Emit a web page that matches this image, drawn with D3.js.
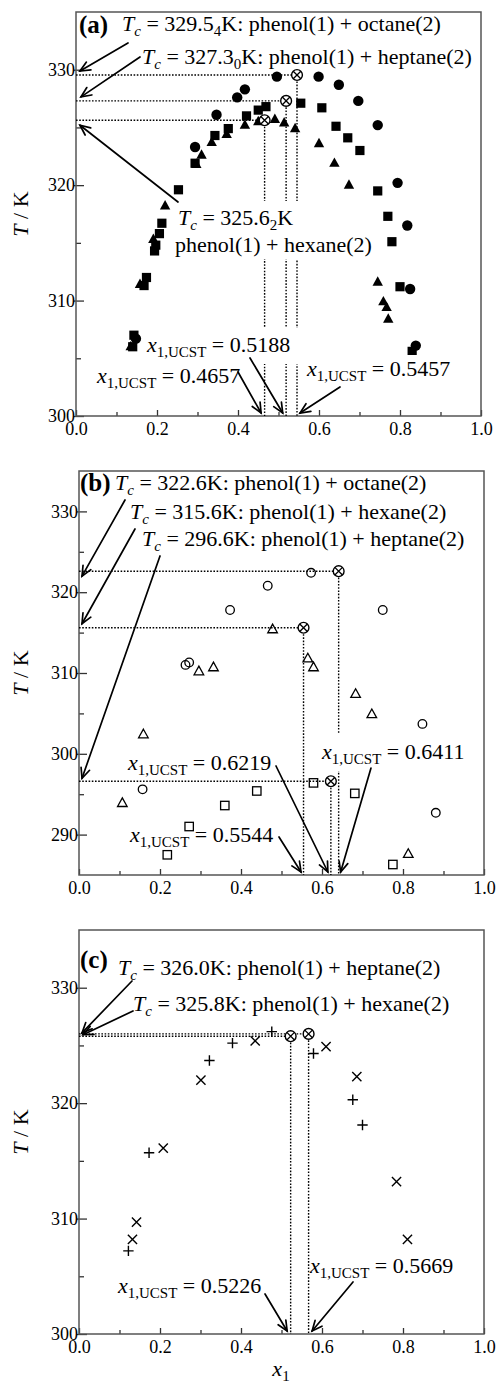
<!DOCTYPE html>
<html>
<head>
<meta charset="utf-8">
<script src="https://cdn.jsdelivr.net/npm/d3@7"></script>
<style>
  body { margin: 0; background: #fff; }
  svg { display: block; }
  text { font-family: "Liberation Serif", "Times New Roman", serif; white-space: pre; fill: #000; }
</style>
</head>
<body>
<svg id="chart" width="497" height="1383"></svg>
<script>
// ---------- data ----------
const xMajorTicks = [0, 0.2, 0.4, 0.6, 0.8, 1.0];
const xMinorTicks = [0.1, 0.3, 0.5, 0.7, 0.9];
const tempTicks300 = [300, 310, 320, 330];
const tempMinor300 = [305, 315, 325];
const tempTicks285 = [290, 300, 310, 320, 330];
const tempMinor285 = [295, 305, 315, 325];

// (a) measured points [x1, T/K]
const octaneA = [[0.148,306.7],[0.294,323.3],[0.347,326.1],[0.398,327.6],[0.417,328.3],[0.496,329.4],
  [0.599,329.4],[0.649,328.7],[0.697,327.3],[0.745,325.2],[0.794,320.2],[0.818,316.5],[0.825,311.0],[0.839,306.1]];
const heptaneA = [[0.140,306.0],[0.143,307.0],[0.168,311.3],[0.174,312.0],[0.194,314.3],[0.197,314.8],
  [0.206,315.8],[0.212,316.7],[0.253,319.6],[0.294,321.9],[0.343,324.3],[0.376,324.9],[0.421,326.0],
  [0.450,326.5],[0.469,326.8],[0.555,327.1],[0.607,326.7],[0.642,325.1],[0.671,324.1],[0.701,323.0],
  [0.745,319.5],[0.770,317.3],[0.780,315.1],[0.800,311.2],[0.830,305.6]];
const hexaneA = [[0.135,306.0],[0.158,311.4],[0.191,315.3],[0.220,318.2],[0.297,321.8],[0.310,322.6],
  [0.335,323.7],[0.372,324.4],[0.417,325.2],[0.450,325.5],[0.491,325.7],[0.514,325.4],[0.541,324.9],
  [0.600,323.6],[0.638,321.9],[0.674,320.0],[0.709,317.0],[0.745,311.6],[0.759,309.9],[0.767,309.4],[0.771,308.4]];
// (a) critical points: octane, heptane, hexane
const criticalXA = [0.5457, 0.5188, 0.4657];
const criticalTA = [329.54, 327.30, 325.62];
const systemsA = ["octane", "heptane", "hexane"];

// (b) calculated points
const octaneB = [[0.157,295.6],[0.263,311.0],[0.272,311.3],[0.373,317.8],[0.466,320.8],[0.573,322.4],
  [0.750,317.8],[0.848,303.7],[0.881,292.7]];
const hexaneB = [[0.107,293.9],[0.159,302.4],[0.296,310.2],[0.332,310.7],[0.478,315.4],[0.565,311.8],
  [0.579,310.7],[0.683,307.4],[0.723,304.9],[0.813,287.6]];
const heptaneB = [[0.218,287.5],[0.272,291.0],[0.360,293.6],[0.439,295.4],[0.579,296.4],[0.681,295.1],[0.775,286.3]];
// (b) critical points: octane, hexane, heptane
const criticalXB = [0.6411, 0.5544, 0.6219];
const criticalTB = [322.6, 315.6, 296.6];
const systemsB = ["octane", "hexane", "heptane"];

// (c) calculated points
const heptaneC = [[0.122,307.2],[0.173,315.7],[0.322,323.7],[0.379,325.2],[0.476,326.2],[0.579,324.3],
  [0.676,320.3],[0.700,318.1]];
const hexaneC = [[0.132,308.2],[0.142,309.7],[0.208,316.1],[0.301,322.0],[0.435,325.4],[0.610,324.9],
  [0.686,322.3],[0.784,313.2],[0.811,308.2]];
// (c) critical points: heptane, hexane
const criticalXC = [0.5669, 0.5226];
const criticalTC = [326.0, 325.8];
const systemsC = ["heptane", "hexane"];

// ---------- drawing helpers ----------
const svg = d3.select("#chart");
const FS = 22;        // annotation font size
const SUB_DY = 5;

const glyphs = {
  discFilled: g => g.append("circle").attr("r", 5.2).attr("fill", "#000"),
  squareFilled: g => g.append("rect").attr("x", -4.6).attr("y", -4.6).attr("width", 9.2).attr("height", 9.2).attr("fill", "#000"),
  triFilled: g => g.append("path").attr("d", "M0,-5.8L5.2,3.6L-5.2,3.6Z").attr("fill", "#000"),
  circleOpen: g => g.append("circle").attr("r", 4.3).attr("fill", "none").attr("stroke", "#000").attr("stroke-width", 1.3),
  squareOpen: g => g.append("rect").attr("x", -4.2).attr("y", -4.2).attr("width", 8.4).attr("height", 8.4)
      .attr("fill", "none").attr("stroke", "#000").attr("stroke-width", 1.3),
  triOpen: g => g.append("path").attr("d", "M0,-5.2L4.8,3.4L-4.8,3.4Z").attr("fill", "none")
      .attr("stroke", "#000").attr("stroke-width", 1.3).attr("stroke-linejoin", "miter"),
  plus: g => g.append("path").attr("d", "M-5.2,0H5.2M0,-5.2V5.2").attr("stroke", "#000").attr("stroke-width", 1.4),
  cross: g => g.append("path").attr("d", "M-4.6,-4.6L4.6,4.6M-4.6,4.6L4.6,-4.6").attr("stroke", "#000").attr("stroke-width", 1.4),
  otimes: g => {
    g.append("circle").attr("r", 5.4).attr("fill", "#fff").attr("stroke", "#000").attr("stroke-width", 1.4);
    g.append("path").attr("d", "M-3.8,-3.8L3.8,3.8M-3.8,3.8L3.8,-3.8").attr("stroke", "#000").attr("stroke-width", 1.3);
  }
};

function richText(g, x, y, parts, fs) {
  const t = g.append("text").attr("x", x).attr("y", y).attr("font-size", fs);
  let shift = 0;
  parts.forEach(p => {
    const ts = t.append("tspan").text(p.t);
    const want = p.sub ? SUB_DY : 0;
    if (want !== shift) { ts.attr("dy", want - shift); shift = want; }
    if (p.sub) ts.attr("font-size", p.fs || Math.round(fs * 0.68));
    if (p.it) ts.attr("font-style", "italic");
  });
  return t;
}

function label(parent, lines, bg, pad) {
  const g = parent.append("g");
  lines.forEach(l => richText(g, l.x, l.y, l.parts, FS));
  if (bg) {
    const b = g.node().getBBox();
    const p = pad || [2, 2, 1, 1];
    g.insert("rect", ":first-child").attr("x", b.x - p[0]).attr("y", b.y - p[2])
      .attr("width", b.width + p[0] + p[1]).attr("height", b.height + p[2] + p[3]).attr("fill", "#fff");
  }
  return g;
}

function arrow(parent, from, to) {
  const a = Math.atan2(to[1] - from[1], to[0] - from[0]);
  const len = 11, s = 0.42;
  const g = parent.append("g").attr("stroke", "#000").attr("stroke-width", 1.7).attr("fill", "none")
    .attr("stroke-linecap", "round");
  g.append("line").attr("x1", from[0]).attr("y1", from[1]).attr("x2", to[0]).attr("y2", to[1]);
  g.append("path").attr("d",
    `M${to[0] - len * Math.cos(a - s)},${to[1] - len * Math.sin(a - s)}L${to[0]},${to[1]}` +
    `L${to[0] - len * Math.cos(a + s)},${to[1] - len * Math.sin(a + s)}`);
}

function tcParts(T, digits, withSub, tail) {
  const s = T.toFixed(digits);
  const parts = [{ t: "T", it: 1 }, { t: "c", it: 1, sub: 1 }];
  if (withSub) {
    parts.push({ t: " = " + s.slice(0, -1) }, { t: s.slice(-1), sub: 1 });
    parts.push({ t: "K" + tail });
  } else {
    parts.push({ t: " = " + s + "K" + tail });
  }
  return parts;
}
function ucstParts(v) {
  return [{ t: "x", it: 1 }, { t: "1,UCST", sub: 1, fs: 15 }, { t: " = " + v.toFixed(4) }];
}

function drawPanel(p) {
  const x = d3.scaleLinear().domain([0, 1]).range([p.left, p.right]);
  const y = d3.scaleLinear().domain(p.yDomain).range([p.bottom, p.top]);
  const g = svg.append("g");

  // axes: ticks point into the plot, minor ticks shorter
  const styleAxis = sel => {
    sel.select(".domain").remove();
    sel.selectAll("line").attr("stroke", "#333").attr("stroke-width", 1.3);
    sel.selectAll("text").attr("font-family", null).attr("font-size", 18).attr("fill", "#111");
    sel.attr("font-family", null).attr("font-size", null);
  };
  g.append("g").attr("transform", `translate(0,${p.bottom})`)
    .call(d3.axisBottom(x).tickValues(xMajorTicks).tickSize(-6).tickPadding(6).tickFormat(d3.format(".1f")))
    .call(styleAxis);
  g.append("g").attr("transform", `translate(0,${p.bottom})`)
    .call(d3.axisBottom(x).tickValues(xMinorTicks).tickSize(-4).tickFormat(""))
    .call(styleAxis);
  const ya = g.append("g").attr("transform", `translate(${p.left},0)`)
    .call(d3.axisLeft(y).tickValues(p.yTicks).tickSize(-8).tickPadding(1).tickFormat(d3.format("d")))
    .call(styleAxis);
  ya.selectAll("line").attr("x1", -2);
  g.append("g").attr("transform", `translate(${p.left},0)`)
    .call(d3.axisLeft(y).tickValues(p.yMinor).tickSize(-5).tickFormat(""))
    .call(styleAxis);

  // frame
  g.append("rect").attr("x", p.left).attr("y", p.top).attr("width", p.right - p.left)
    .attr("height", p.bottom - p.top).attr("fill", "none").attr("stroke", "#555").attr("stroke-width", 1.5);

  // dotted guides from each critical point to both axes
  const guides = g.append("g").attr("stroke", "#000").attr("stroke-width", 1.4).attr("stroke-dasharray", "1.6,1.6");
  p.critX.forEach((cx, i) => {
    const ct = p.critT[i];
    guides.append("line").attr("x1", x(0)).attr("x2", x(cx)).attr("y1", y(ct)).attr("y2", y(ct));
    guides.append("line").attr("x1", x(cx)).attr("x2", x(cx)).attr("y1", y(ct)).attr("y2", y(p.yDomain[0]));
  });

  // markers
  p.series.forEach(s => {
    g.append("g").selectAll("g").data(s.data).join("g")
      .attr("transform", d => `translate(${x(d[0])},${y(d[1])})`)
      .each(function () { glyphs[s.glyph](d3.select(this)); });
  });
  g.append("g").selectAll("g").data(p.critX.map((cx, i) => [cx, p.critT[i]])).join("g")
    .attr("transform", d => `translate(${x(d[0])},${y(d[1])})`)
    .each(function () { glyphs.otimes(d3.select(this)); });

  // y-axis title
  richText(g, 0, 0, [{ t: "T", it: 1 }, { t: " / K" }], 22)
    .attr("text-anchor", "middle")
    .attr("transform", `translate(28,${(p.top + p.bottom) / 2}) rotate(-90)`);

  // panel letter
  g.append("text").attr("x", p.letterPos[0]).attr("y", p.letterPos[1]).attr("font-size", 25)
    .attr("font-weight", "bold").text(p.letter);

  // critical-point annotations with arrows
  p.tcLabels.forEach(L => {
    const i = L.idx;
    const lines = L.lines.map(l => ({ x: l.x, y: l.y, parts: l.parts(p.critT[i], p.systems[i]) }));
    label(g, lines, L.bg, L.pad);
  });
  p.xLabels.forEach(L => {
    label(g, [{ x: L.x, y: L.y, parts: ucstParts(p.critX[L.idx]) }], L.bg, L.pad);
  });
  p.tcLabels.forEach(L => {
    arrow(g, L.tail, [p.left + L.tip[0], y(p.critT[L.idx]) + L.tip[1]]);
  });
  p.xLabels.forEach(L => {
    arrow(g, L.tail, [x(p.critX[L.idx]) + L.tipDx, p.bottom - 3]);
  });

  return { x, y, g };
}

// ---------- panels ----------
drawPanel({
  left: 76, right: 481, top: 12, bottom: 416, yDomain: [300, 335],
  yTicks: tempTicks300, yMinor: tempMinor300,
  series: [{ data: octaneA, glyph: "discFilled" }, { data: heptaneA, glyph: "squareFilled" }, { data: hexaneA, glyph: "triFilled" }],
  critX: criticalXA, critT: criticalTA, systems: systemsA,
  letter: "(a)", letterPos: [79, 33],
  tcLabels: [
    { idx: 0, lines: [{ x: 122, y: 31, parts: (T, s) => tcParts(T, 2, true, `: phenol(1) + ${s}(2)`) }], tail: [128, 43], tip: [4, -4] },
    { idx: 1, lines: [{ x: 142, y: 64, parts: (T, s) => tcParts(T, 2, true, `: phenol(1) + ${s}(2)`) }], tail: [140, 57], tip: [5, -4] },
    { idx: 2, bg: true, pad: [3, 3, 4, 2], lines: [
        { x: 178, y: 225, parts: (T, s) => tcParts(T, 2, true, "") },
        { x: 175, y: 252, parts: (T, s) => [{ t: `phenol(1) + ${s}(2)` }] }],
      tail: [178, 202], tip: [4, 5] }
  ],
  xLabels: [
    { idx: 1, x: 147, y: 352, bg: true, pad: [2, 10, 4, 4], tail: [250, 358], tipDx: -3.4 },
    { idx: 2, x: 97, y: 383, bg: true, tail: [238, 372], tipDx: -3.5 },
    { idx: 0, x: 307, y: 376, bg: true, tail: [340, 387], tipDx: 3 }
  ]
});

drawPanel({
  left: 79, right: 484, top: 471, bottom: 875, yDomain: [285, 335],
  yTicks: tempTicks285, yMinor: tempMinor285,
  series: [{ data: octaneB, glyph: "circleOpen" }, { data: hexaneB, glyph: "triOpen" }, { data: heptaneB, glyph: "squareOpen" }],
  critX: criticalXB, critT: criticalTB, systems: systemsB,
  letter: "(b)", letterPos: [80, 491],
  tcLabels: [
    { idx: 0, lines: [{ x: 115, y: 490, parts: (T, s) => tcParts(T, 1, false, `: phenol(1) + ${s}(2)`) }], tail: [125, 500], tip: [3, 5] },
    { idx: 1, lines: [{ x: 130, y: 519, parts: (T, s) => tcParts(T, 1, false, `: phenol(1) + ${s}(2)`) }], tail: [135, 529], tip: [3, -4] },
    { idx: 2, lines: [{ x: 142, y: 546, parts: (T, s) => tcParts(T, 1, false, `: phenol(1) + ${s}(2)`) }], tail: [160, 556], tip: [3, -3] }
  ],
  xLabels: [
    { idx: 2, x: 128, y: 770, tail: [276, 766], tipDx: -3 },
    { idx: 1, x: 130, y: 842, tail: [279, 837], tipDx: -2.5 },
    { idx: 0, x: 322, y: 759, bg: true, pad: [2, 2, 5, 4], tail: [371, 768], tipDx: 2 }
  ]
});

drawPanel({
  left: 79, right: 484, top: 930, bottom: 1334, yDomain: [300, 335],
  yTicks: tempTicks300, yMinor: tempMinor300,
  series: [{ data: heptaneC, glyph: "plus" }, { data: hexaneC, glyph: "cross" }],
  critX: criticalXC, critT: criticalTC, systems: systemsC,
  letter: "(c)", letterPos: [80, 968],
  tcLabels: [
    { idx: 0, lines: [{ x: 118, y: 975, parts: (T, s) => tcParts(T, 1, false, `: phenol(1) + ${s}(2)`) }], tail: [132, 981], tip: [3, -1] },
    { idx: 1, lines: [{ x: 133, y: 1011, parts: (T, s) => tcParts(T, 1, false, `: phenol(1) + ${s}(2)`) }], tail: [133, 1011], tip: [4, -1.5] }
  ],
  xLabels: [
    { idx: 1, x: 118, y: 1293, tail: [265, 1294], tipDx: -3.5 },
    { idx: 0, x: 310, y: 1273, tail: [353, 1282], tipDx: 3.5 }
  ]
});

// x-axis title under the bottom panel
richText(svg, 281, 1376, [{ t: "x", it: 1 }, { t: "1", sub: 1, fs: 15 }], 22).attr("text-anchor", "middle");
</script>
</body>
</html>
